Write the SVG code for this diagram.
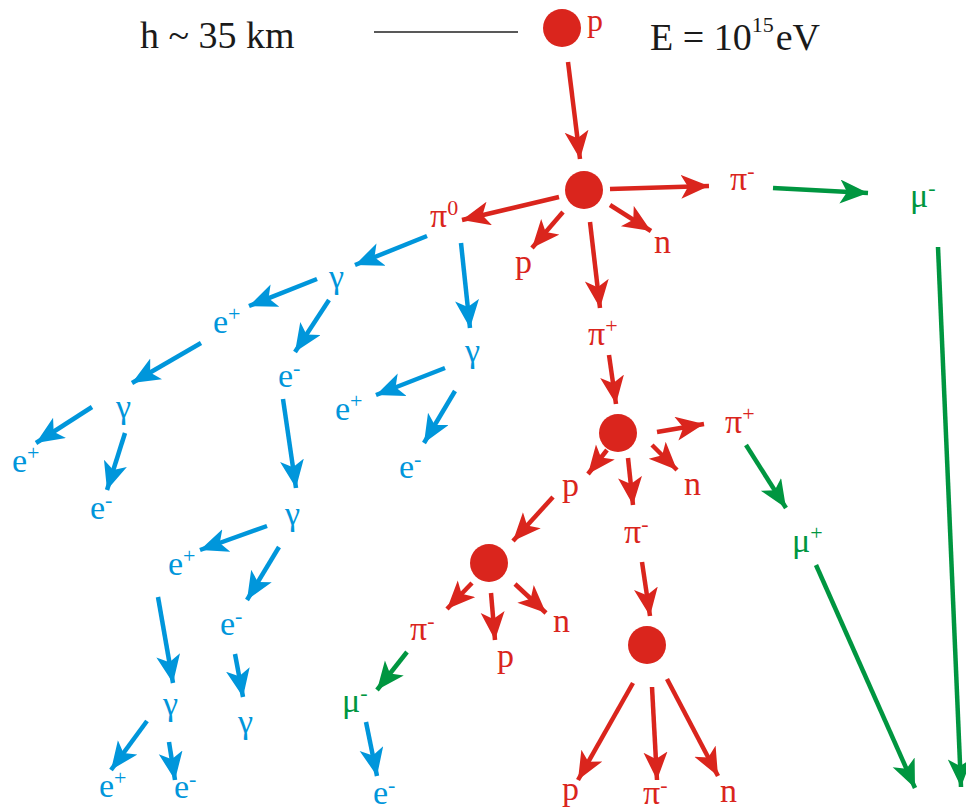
<svg xmlns="http://www.w3.org/2000/svg" width="966" height="812" viewBox="0 0 966 812">
<g id="header">
<text x="140" y="48" font-size="38" font-family="Liberation Serif" fill="#1a1a1a">h ~ 35 km</text>
<line x1="374" y1="32" x2="518" y2="32" stroke="#222" stroke-width="1.3"/>
<text x="650" y="50" font-size="38" font-family="Liberation Serif" fill="#1a1a1a">E = 10<tspan font-size="22" dy="-18">15</tspan><tspan font-size="38" dx="2" dy="18">eV</tspan></text>
</g>
<g id="connectors" fill="none" stroke-width="4.5">
<g stroke="#DA251D" marker-end="url(#ar)">
<line x1="568" y1="62" x2="580" y2="159"/>
<line x1="610" y1="189" x2="709" y2="186"/>
<line x1="559" y1="197" x2="462" y2="220"/>
<line x1="563" y1="212" x2="532" y2="248"/>
<line x1="610" y1="205" x2="651" y2="231"/>
<line x1="590" y1="222" x2="600" y2="308"/>
<line x1="609" y1="355" x2="616" y2="404"/>
<line x1="657" y1="432" x2="704" y2="424"/>
<line x1="607" y1="450" x2="588" y2="474"/>
<line x1="628" y1="458" x2="633" y2="505"/>
<line x1="652" y1="445" x2="677" y2="470"/>
<line x1="553" y1="497" x2="513" y2="541"/>
<line x1="472" y1="583" x2="447" y2="609"/>
<line x1="491" y1="593" x2="495" y2="640"/>
<line x1="515" y1="584" x2="546" y2="613"/>
<line x1="642" y1="562" x2="650" y2="616"/>
<line x1="633" y1="683" x2="578" y2="780"/>
<line x1="652" y1="687" x2="657" y2="780"/>
<line x1="667" y1="679" x2="718" y2="776"/>
</g>
<g stroke="#009640" marker-end="url(#ag)">
<line x1="773" y1="188" x2="868" y2="193"/>
<line x1="938" y1="247" x2="961" y2="787"/>
<line x1="746" y1="445" x2="786" y2="508"/>
<line x1="816" y1="565" x2="915" y2="788"/>
<line x1="407" y1="652" x2="377" y2="690"/>
</g>
<g stroke="#0096DB" marker-end="url(#ab)">
<line x1="427" y1="236" x2="355" y2="265"/>
<line x1="461" y1="243" x2="470" y2="328"/>
<line x1="317" y1="279" x2="249" y2="306"/>
<line x1="329" y1="300" x2="295" y2="352"/>
<line x1="201" y1="343" x2="132" y2="383"/>
<line x1="92" y1="407" x2="36" y2="443"/>
<line x1="125" y1="433" x2="107" y2="490"/>
<line x1="283" y1="399" x2="296" y2="488"/>
<line x1="445" y1="368" x2="376" y2="395"/>
<line x1="455" y1="391" x2="424" y2="443"/>
<line x1="267" y1="526" x2="200" y2="550"/>
<line x1="279" y1="547" x2="247" y2="600"/>
<line x1="158" y1="597" x2="173" y2="683"/>
<line x1="235" y1="654" x2="243" y2="697"/>
<line x1="147" y1="721" x2="111" y2="770"/>
<line x1="169" y1="742" x2="175" y2="780"/>
<line x1="366" y1="722" x2="377" y2="776"/>
</g>
</g>
<g id="p0"><circle cx="562" cy="28" r="19" fill="#DA251D"/><text x="587" y="31" font-size="32" font-family="Liberation Serif" fill="#DA251D">p</text></g>
<g id="v1"><circle cx="584" cy="190" r="19" fill="#DA251D"/></g>
<g id="v2"><circle cx="618" cy="433" r="19" fill="#DA251D"/></g>
<g id="v3"><circle cx="489" cy="563" r="19" fill="#DA251D"/></g>
<g id="v4"><circle cx="647" cy="645" r="19" fill="#DA251D"/></g>
<g id="pi0"><text x="430" y="227" font-size="34" font-family="Liberation Serif" fill="#DA251D">π<tspan font-size="22" dy="-12">0</tspan></text></g>
<g id="p1"><text x="515" y="273" font-size="34" font-family="Liberation Serif" fill="#DA251D">p</text></g>
<g id="n1"><text x="654" y="253" font-size="34" font-family="Liberation Serif" fill="#DA251D">n</text></g>
<g id="pim1"><text x="730" y="190" font-size="34" font-family="Liberation Serif" fill="#DA251D">π<tspan font-size="22" dy="-12">-</tspan></text></g>
<g id="pip1"><text x="588" y="345" font-size="34" font-family="Liberation Serif" fill="#DA251D">π<tspan font-size="22" dy="-12">+</tspan></text></g>
<g id="pip2"><text x="725" y="433" font-size="34" font-family="Liberation Serif" fill="#DA251D">π<tspan font-size="22" dy="-12">+</tspan></text></g>
<g id="p2"><text x="562" y="496" font-size="34" font-family="Liberation Serif" fill="#DA251D">p</text></g>
<g id="n2"><text x="684" y="495" font-size="34" font-family="Liberation Serif" fill="#DA251D">n</text></g>
<g id="pim2"><text x="624" y="543" font-size="34" font-family="Liberation Serif" fill="#DA251D">π<tspan font-size="22" dy="-12">-</tspan></text></g>
<g id="pim3"><text x="410" y="640" font-size="34" font-family="Liberation Serif" fill="#DA251D">π<tspan font-size="22" dy="-12">-</tspan></text></g>
<g id="p3"><text x="497" y="667" font-size="34" font-family="Liberation Serif" fill="#DA251D">p</text></g>
<g id="n3"><text x="553" y="632" font-size="34" font-family="Liberation Serif" fill="#DA251D">n</text></g>
<g id="p4"><text x="562" y="800" font-size="34" font-family="Liberation Serif" fill="#DA251D">p</text></g>
<g id="pim4"><text x="643" y="804" font-size="34" font-family="Liberation Serif" fill="#DA251D">π<tspan font-size="22" dy="-12">-</tspan></text></g>
<g id="n4"><text x="720" y="802" font-size="34" font-family="Liberation Serif" fill="#DA251D">n</text></g>
<g id="mum1"><text x="910" y="207" font-size="34" font-family="Liberation Serif" fill="#009640">μ<tspan font-size="22" dy="-12">-</tspan></text></g>
<g id="mup"><text x="792" y="552" font-size="34" font-family="Liberation Serif" fill="#009640">μ<tspan font-size="22" dy="-12">+</tspan></text></g>
<g id="mum2"><text x="342" y="712" font-size="34" font-family="Liberation Serif" fill="#009640">μ<tspan font-size="22" dy="-12">-</tspan></text></g>
<g id="g1"><text x="329" y="288" font-size="34" font-family="Liberation Serif" fill="#0096DB">γ</text></g>
<g id="ep1"><text x="213" y="333" font-size="34" font-family="Liberation Serif" fill="#0096DB">e<tspan font-size="22" dy="-12">+</tspan></text></g>
<g id="em1"><text x="278" y="387" font-size="34" font-family="Liberation Serif" fill="#0096DB">e<tspan font-size="22" dy="-12">-</tspan></text></g>
<g id="g2"><text x="116" y="418" font-size="34" font-family="Liberation Serif" fill="#0096DB">γ</text></g>
<g id="ep2"><text x="12" y="472" font-size="34" font-family="Liberation Serif" fill="#0096DB">e<tspan font-size="22" dy="-12">+</tspan></text></g>
<g id="em2"><text x="90" y="519" font-size="34" font-family="Liberation Serif" fill="#0096DB">e<tspan font-size="22" dy="-12">-</tspan></text></g>
<g id="g3"><text x="285" y="525" font-size="34" font-family="Liberation Serif" fill="#0096DB">γ</text></g>
<g id="g4"><text x="465" y="362" font-size="34" font-family="Liberation Serif" fill="#0096DB">γ</text></g>
<g id="ep3"><text x="335" y="420" font-size="34" font-family="Liberation Serif" fill="#0096DB">e<tspan font-size="22" dy="-12">+</tspan></text></g>
<g id="em3"><text x="399" y="478" font-size="34" font-family="Liberation Serif" fill="#0096DB">e<tspan font-size="22" dy="-12">-</tspan></text></g>
<g id="ep4"><text x="168" y="575" font-size="34" font-family="Liberation Serif" fill="#0096DB">e<tspan font-size="22" dy="-12">+</tspan></text></g>
<g id="em4"><text x="220" y="635" font-size="34" font-family="Liberation Serif" fill="#0096DB">e<tspan font-size="22" dy="-12">-</tspan></text></g>
<g id="g5"><text x="163" y="715" font-size="34" font-family="Liberation Serif" fill="#0096DB">γ</text></g>
<g id="g6"><text x="238" y="733" font-size="34" font-family="Liberation Serif" fill="#0096DB">γ</text></g>
<g id="ep5"><text x="99" y="797" font-size="34" font-family="Liberation Serif" fill="#0096DB">e<tspan font-size="22" dy="-12">+</tspan></text></g>
<g id="em5"><text x="174" y="798" font-size="34" font-family="Liberation Serif" fill="#0096DB">e<tspan font-size="22" dy="-12">-</tspan></text></g>
<g id="em6"><text x="373" y="804" font-size="34" font-family="Liberation Serif" fill="#0096DB">e<tspan font-size="22" dy="-12">-</tspan></text></g>
<defs>
<marker id="ar" markerWidth="30" markerHeight="26" refX="28" refY="12" orient="auto" markerUnits="userSpaceOnUse"><path d="M0,0 L28,12 L0,24 L7,12 z" fill="#DA251D"/></marker>
<marker id="ab" markerWidth="30" markerHeight="26" refX="28" refY="12" orient="auto" markerUnits="userSpaceOnUse"><path d="M0,0 L28,12 L0,24 L7,12 z" fill="#0096DB"/></marker>
<marker id="ag" markerWidth="30" markerHeight="26" refX="28" refY="12" orient="auto" markerUnits="userSpaceOnUse"><path d="M0,0 L28,12 L0,24 L7,12 z" fill="#009640"/></marker>
</defs>
</svg>
